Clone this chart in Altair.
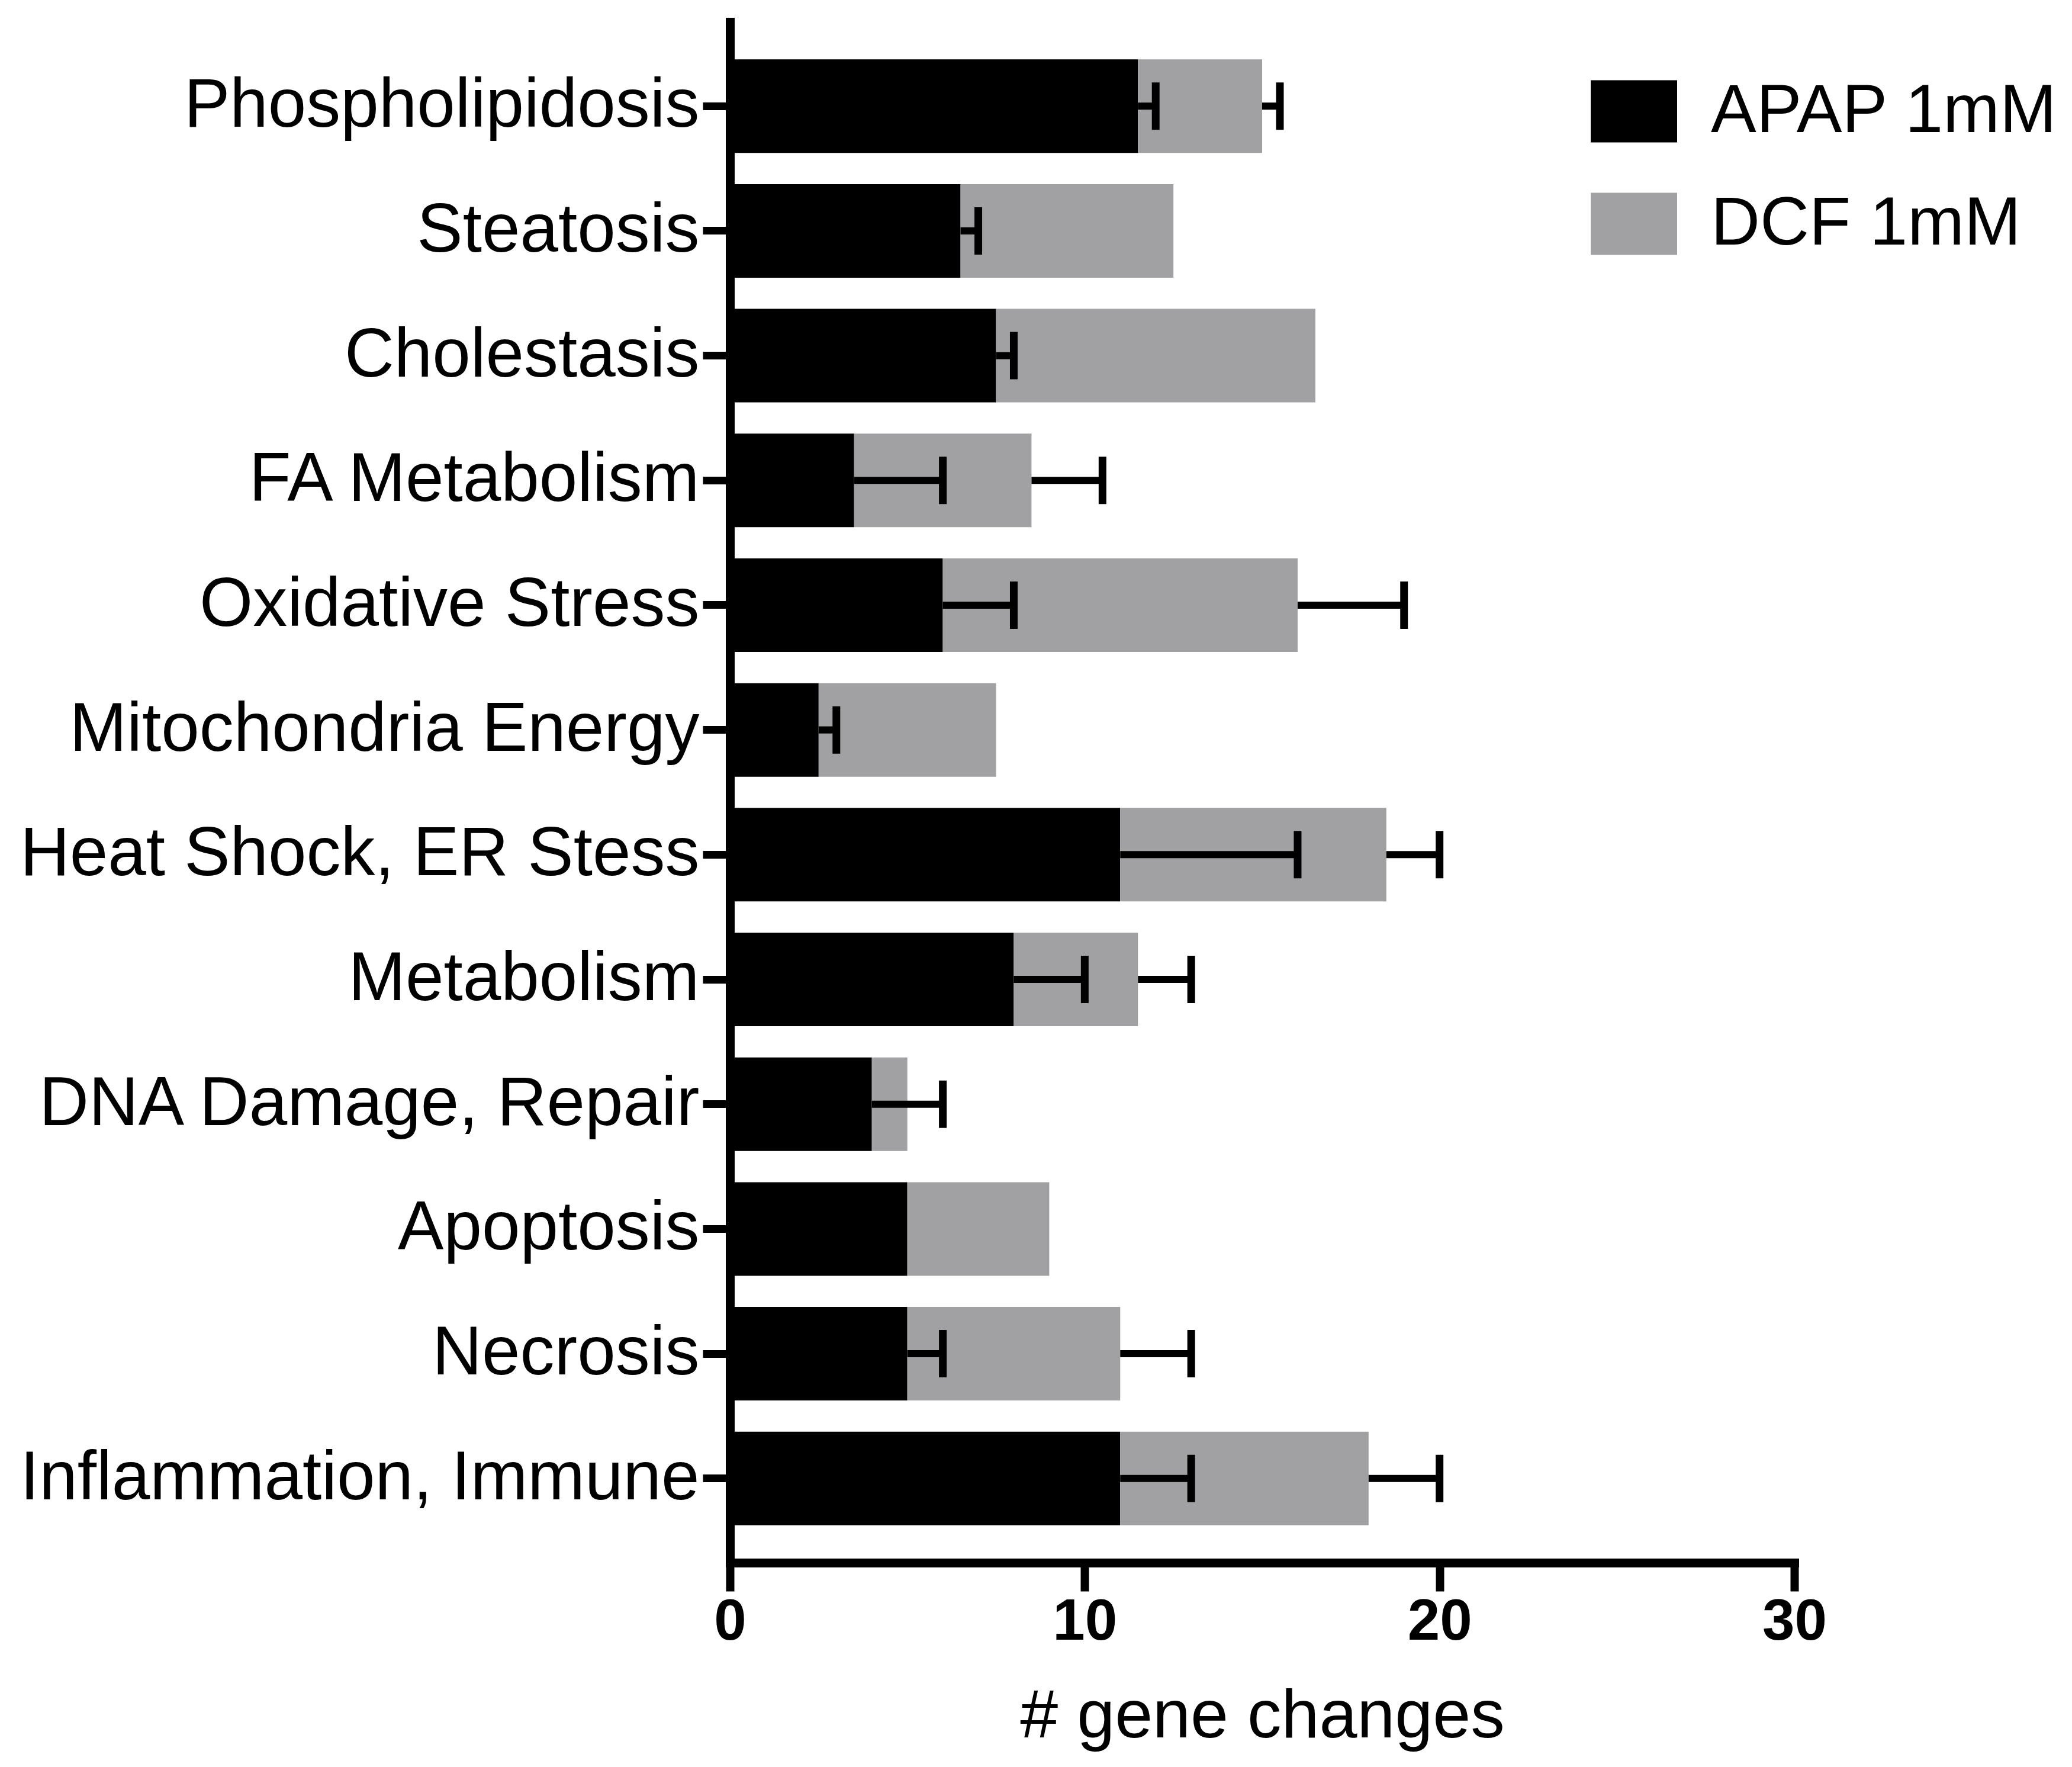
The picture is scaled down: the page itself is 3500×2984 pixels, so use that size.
import altair as alt
import pandas as pd

categories = ["Phospholipidosis", "Steatosis", "Cholestasis", "FA Metabolism",
              "Oxidative Stress", "Mitochondria Energy", "Heat Shock, ER Stess",
              "Metabolism", "DNA Damage, Repair", "Apoptosis", "Necrosis",
              "Inflammation, Immune"]
series = ["APAP 1mM", "DCF 1mM"]
apap = [11.5, 6.5, 7.5, 3.5, 6.0, 2.5, 11.0, 8.0, 4.0, 5.0, 5.0, 11.0]
dcf = [3.5, 6.0, 9.0, 5.0, 10.0, 5.0, 7.5, 3.5, 1.0, 4.0, 6.0, 7.0]
apap_err = [0.5, 0.5, 0.5, 2.5, 2.0, 0.5, 5.0, 2.0, 2.0, 0.0, 1.0, 2.0]
dcf_err = [0.5, 0.0, 0.0, 2.0, 3.0, 0.0, 1.5, 1.5, 0.0, 0.0, 2.0, 2.0]
x_ticks = [0, 10, 20, 30]

bar_rows, err_rows = [], []
for i, c in enumerate(categories):
    bar_rows.append({"cat": c, "series": series[0], "ord": 0, "value": apap[i]})
    bar_rows.append({"cat": c, "series": series[1], "ord": 1, "value": dcf[i]})
    if apap_err[i] > 0:
        err_rows.append({"cat": c, "start": apap[i], "end": apap[i] + apap_err[i]})
    if dcf_err[i] > 0:
        tot = apap[i] + dcf[i]
        err_rows.append({"cat": c, "start": tot, "end": tot + dcf_err[i]})
bars_df = pd.DataFrame(bar_rows)
err_df = pd.DataFrame(err_rows)

FONT = "Liberation Sans"
W, H = 1798, 2602

yscale = alt.Scale(domain=categories, paddingInner=0.25, paddingOuter=0.3)
xscale = alt.Scale(domain=[0, 30], nice=False)

y_enc = alt.Y("cat:N", sort=categories, scale=yscale,
              axis=alt.Axis(title=None, labelFontSize=116, labelFont=FONT,
                            labelColor="black", tickSize=46, tickWidth=13,
                            tickColor="black", domainWidth=15, domainColor="black",
                            domainCap="square", labelPadding=6, labelLimit=2000))

bars = alt.Chart(bars_df).mark_bar(stroke=None).encode(
    x=alt.X("value:Q", stack="zero", scale=xscale,
            axis=alt.Axis(values=x_ticks, format="d", title="# gene changes",
                          labelFontSize=98, labelFontWeight="bold", labelFont=FONT,
                          labelColor="black", labelLimit=1000,
                          tickSize=48, tickWidth=14, tickColor="black",
                          domainWidth=15, domainColor="black", domainCap="square",
                          labelPadding=4, titleFont=FONT, titleFontSize=115,
                          titleFontWeight="normal", titleColor="black",
                          titlePadding=54, grid=False, labelFlush=False)),
    y=y_enc,
    color=alt.Color("series:N", scale=alt.Scale(domain=series, range=["#000000", "#a1a1a4"]),
                    legend=alt.Legend(title=None, orient="none", legendX=1454, legendY=78,
                                      symbolType="M-1,-0.72H1V0.72H-1Z", symbolSize=21316,
                                      symbolStrokeWidth=0, symbolOpacity=1,
                                      labelFontSize=115, labelFont=FONT,
                                      labelColor="black", labelOffset=57, rowPadding=59,
                                      labelLimit=2000)),
    order=alt.Order("ord:Q"),
)

rules = alt.Chart(err_df).mark_rule(color="black", strokeWidth=12, opacity=1).encode(
    x=alt.X("start:Q", scale=xscale),
    x2="end:Q",
    y=alt.Y("cat:N", sort=categories, scale=yscale),
)

caps = alt.Chart(err_df).mark_tick(color="black", thickness=13, size=80, opacity=1).encode(
    x=alt.X("end:Q", scale=xscale),
    y=alt.Y("cat:N", sort=categories, scale=yscale),
)

chart = alt.layer(bars, rules, caps).properties(
    width=W, height=H,
    autosize=alt.AutoSizeParams(type="none"),
    padding={"left": 1225, "top": 29, "right": 461, "bottom": 337},
    background="white",
).configure_view(stroke=None).configure_axis(grid=False)

chart.save("out.html", embed_options={"renderer": "svg", "actions": False})
